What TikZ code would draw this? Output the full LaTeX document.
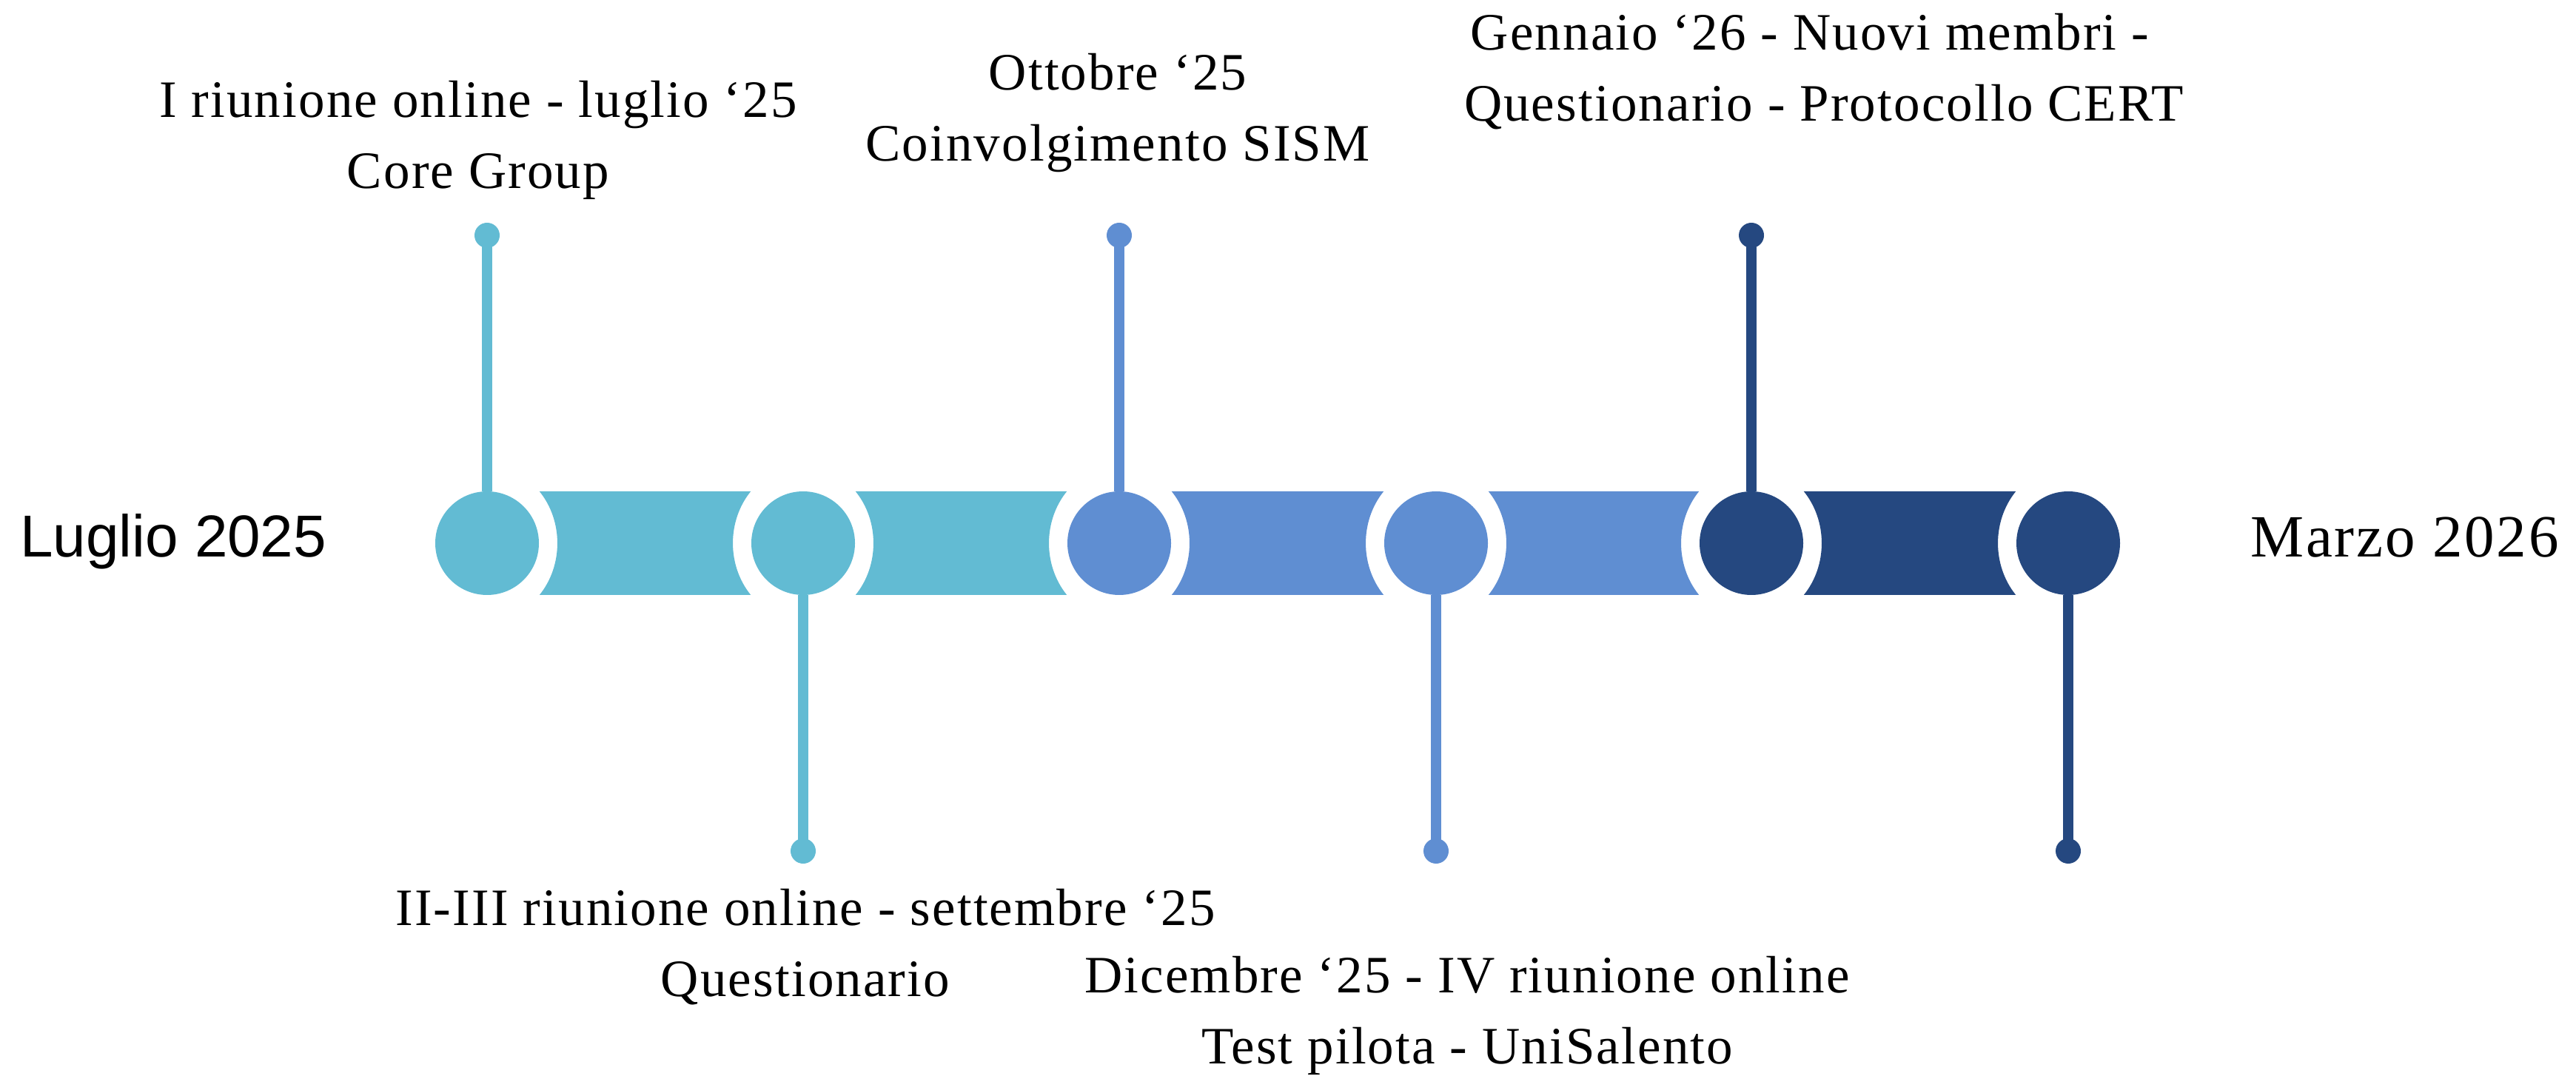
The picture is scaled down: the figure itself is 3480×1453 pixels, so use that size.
\documentclass[tikz,border=0pt]{standalone}
\usepackage{fontspec}
\usetikzlibrary{calc}
\setmainfont{Liberation Serif}
\newfontfamily\evfont[LetterSpace=3]{Liberation Serif}
\newfontfamily\endfont[LetterSpace=3.5]{Liberation Serif}
\newfontfamily\startfont{Liberation Sans}
\definecolor{cteal}{RGB}{98,187,211}
\definecolor{cblue}{RGB}{95,142,210}
\definecolor{cnavy}{RGB}{37,72,128}
\tikzset{
  milestone/.style={circle, minimum size=70pt, inner sep=0pt, outer sep=0pt, fill=#1},
  tipdot/.style={circle, minimum size=17pt, inner sep=0pt, outer sep=0pt, fill=#1},
  stem/.style={line width=7pt, draw=#1},
  band/.style={fill=#1},
  evlabel/.style={font=\evfont\fontsize{35.5}{48}\selectfont, align=center, anchor=base, inner sep=0pt},
}
\begin{document}
\begin{tikzpicture}[x=0.5pt, y=0.5pt]
\useasboundingbox (0,0) rectangle (3480,1453);
% milestones
\node[milestone=cteal] (c1) at (658,719) {};
\node[milestone=cteal] (c2) at (1085,719) {};
\node[milestone=cblue] (c3) at (1512,719) {};
\node[milestone=cblue] (c4) at (1940,719) {};
\node[milestone=cnavy] (c5) at (2366,719) {};
\node[milestone=cnavy] (c6) at (2794,719) {};
% bands between milestones
\foreach \a/\b/\col in {c1/c2/cteal, c2/c3/cteal, c3/c4/cblue, c4/c5/cblue, c5/c6/cnavy}{
  \fill[band=\col] ($(\a)+(70.8,70)$) -- ($(\b)+(-70.8,70)$)
    arc[start angle=138.2, end angle=221.8, x radius=47.5pt, y radius=52.5pt]
    -- ($(\a)+(70.8,-70)$)
    arc[start angle=-41.8, end angle=41.8, x radius=47.5pt, y radius=52.5pt]
    -- cycle;
}
% tip dots
\node[tipdot=cteal] (d1) at (658,1135) {};
\node[tipdot=cteal] (d2) at (1085,303) {};
\node[tipdot=cblue] (d3) at (1512,1135) {};
\node[tipdot=cblue] (d4) at (1940,303) {};
\node[tipdot=cnavy] (d5) at (2366,1135) {};
\node[tipdot=cnavy] (d6) at (2794,303) {};
% stems
\draw[stem=cteal] (c1.north) -- (d1.center);
\draw[stem=cteal] (c2.south) -- (d2.center);
\draw[stem=cblue] (c3.north) -- (d3.center);
\draw[stem=cblue] (c4.south) -- (d4.center);
\draw[stem=cnavy] (c5.north) -- (d5.center);
\draw[stem=cnavy] (c6.south) -- (d6.center);
% labels (base anchor = baseline of the last line)
\node[evlabel] (e1) at (646,1198) {I riunione online - luglio ‘25\\Core Group};
\node[evlabel] (e2) at (1088,107) {II-III riunione online - settembre ‘25\\Questionario};
\node[evlabel] (e3) at (1510,1235) {Ottobre ‘25\\Coinvolgimento SISM};
\node[evlabel] (e4) at (1982,16) {Dicembre ‘25 - IV riunione online\\Test pilota - UniSalento};
\node[evlabel] (e5) at (2464,1289) {Gennaio ‘26 - Nuovi membri -\hspace*{19pt}\\Questionario - Protocollo CERT};
\node[font=\startfont\fontsize{40}{48}\selectfont, anchor=base west, inner sep=0pt] (start) at (27,700) {Luglio 2025};
\node[font=\endfont\fontsize{40.5}{48}\selectfont, anchor=base west, inner sep=0pt] (end) at (3040,700) {Marzo 2026};
\end{tikzpicture}
\end{document}
